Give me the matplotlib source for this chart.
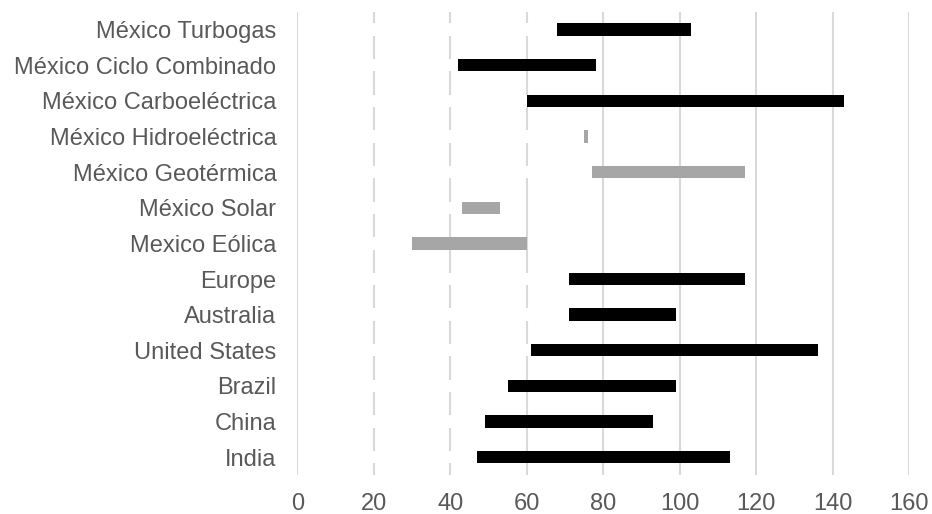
import matplotlib
matplotlib.use("Agg")
import matplotlib.pyplot as plt

# Categories from bottom to top
categories = [
    "India", "China", "Brazil", "United States", "Australia", "Europe",
    "Mexico Eólica", "México Solar", "México Geotérmica",
    "México Hidroeléctrica", "México Carboeléctrica",
    "México Ciclo Combinado", "México Turbogas",
]
low = [47, 49, 55, 61, 71, 71, 30, 43, 77, 75, 60, 42, 68]
high = [113, 93, 99, 136, 99, 117, 60, 53, 117, 76, 143, 78, 103]
renewable = [False] * 6 + [True] * 4 + [False] * 3

x_ticks = [0, 20, 40, 60, 80, 100, 120, 140, 160]

plt.rcParams["font.family"] = ["Liberation Sans", "DejaVu Sans"]

fig = plt.figure(figsize=(9.32, 5.14), dpi=100)
ax = fig.add_axes([0.319, 0.076, 0.6567, 0.901])

grid_color = "#d9d9d9"
for t in x_ticks:
    # the zero line sits on top of the invisible base bars
    ax.axvline(t, color=grid_color, lw=1.5, zorder=3 if t == 0 else 0)

y = range(len(categories))
widths = [h - l for l, h in zip(low, high)]
colors = ["#a6a6a6" if r else "#000000" for r in renewable]

# white base segment (stacked-bar trick), then the visible range
ax.barh(y, low, height=0.35, color="white", zorder=1)
ax.barh(y, widths, left=low, height=0.35, color=colors, zorder=2)

ax.set_xlim(0, 160)
ax.set_ylim(-0.5, len(categories) - 0.5)
ax.set_xticks(x_ticks)
ax.set_yticks(y)
ax.set_yticklabels(categories)
ax.tick_params(axis="both", length=0, labelsize=17, labelcolor="#595959")
ax.tick_params(axis="y", pad=15)
ax.tick_params(axis="x", pad=13)
for s in ax.spines.values():
    s.set_visible(False)

fig.savefig("out.png", dpi=100)
